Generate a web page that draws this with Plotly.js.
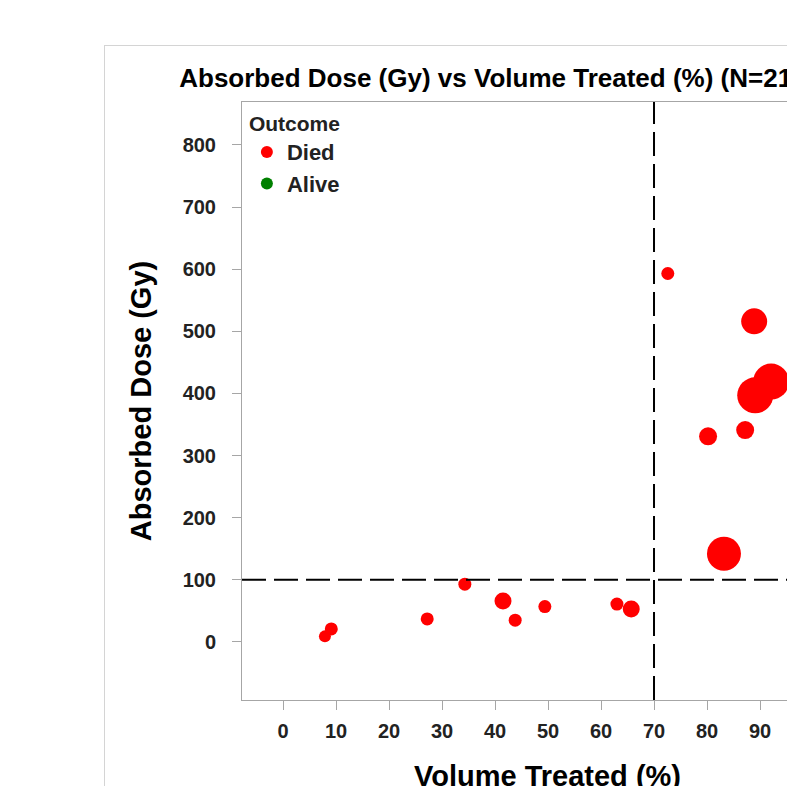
<!DOCTYPE html>
<html>
<head>
<meta charset="utf-8">
<script src="https://cdn.plot.ly/plotly-3.0.1.min.js"></script>
<style>
  html, body { margin: 0; padding: 0; background: #ffffff; overflow: hidden; width: 787px; height: 786px; }
  #frame { position: absolute; left: 104px; top: 45px; width: 800px; height: 800px; border: 1px solid #d4d4d4; background: #fff; }
  #chart { position: absolute; left: 0; top: 0; }
</style>
</head>
<body>
<div id="frame"><div id="chart"></div></div>
<script>
// Data (visible points; outcome = Died)
const diedVolume = [7.9, 9.1, 27.2, 34.3, 41.5, 43.8, 49.4, 63.0, 65.7, 72.6, 88.9, 80.2, 87.2, 89.1, 92.1, 83.2];
const diedDose   = [9,   21,  37,   93,   66,   35,   57,   61,   53,   593,  516,  331,  341,  397,  419,  142];
const diedBubble = [12,  13,  13,   13,   17,   13,   13,   13,   17,   13,   26,   18,   18,   36,   36,   34];
const aliveVolume = [];
const aliveDose = [];
const volumeCut = 70;
const doseCut = 100;
const xTicks = [0, 10, 20, 30, 40, 50, 60, 70, 80, 90];
const yTicks = [0, 100, 200, 300, 400, 500, 600, 700, 800];

const font = 'Liberation Sans, Arial, sans-serif';

const traces = [
  {
    type: 'scatter', mode: 'markers', name: 'Died',
    x: diedVolume, y: diedDose,
    marker: { color: '#ff0000', opacity: 1, size: diedBubble, line: { width: 0 } }
  },
  {
    type: 'scatter', mode: 'markers', name: 'Alive',
    x: aliveVolume.length ? aliveVolume : [null], y: aliveDose.length ? aliveDose : [null],
    marker: { color: '#008000', opacity: 1, size: 13, line: { width: 0 } }
  }
];

const layout = {
  width: 770, height: 770,
  margin: { l: 137, r: 22, t: 56, b: 116 },
  paper_bgcolor: 'rgba(0,0,0,0)',
  plot_bgcolor: '#ffffff',
  font: { family: font, color: '#000000' },
  title: {
    text: '<b>Absorbed Dose (Gy) vs Volume Treated (%) (N=21)</b>',
    font: { family: font, size: 26, color: '#000000' },
    x: 0.5, xref: 'container', xanchor: 'center',
    y: 1 - 32 / 770, yref: 'container', yanchor: 'middle'
  },
  xaxis: {
    range: [-7.75, 107.55],
    tickvals: xTicks,
    ticks: 'outside', ticklen: 9, tickwidth: 1, tickcolor: '#a6a6a6',
    ticklabelstandoff: 4,
    showline: true, linecolor: '#a6a6a6', linewidth: 1, mirror: true,
    showgrid: false, zeroline: false,
    tickfont: { family: font, size: 20, color: '#222222', weight: 'bold' },
    title: { text: '<b>Volume Treated (%)</b>', font: { family: font, size: 29, color: '#000000' }, standoff: 24 }
  },
  yaxis: {
    range: [-93.4, 869],
    tickvals: yTicks,
    ticks: 'outside', ticklen: 9, tickwidth: 1, tickcolor: '#a6a6a6',
    ticklabelstandoff: 12,
    showline: true, linecolor: '#a6a6a6', linewidth: 1, mirror: true,
    showgrid: false, zeroline: false,
    tickfont: { family: font, size: 20, color: '#222222', weight: 'bold' },
    title: { text: '<b>Absorbed Dose (Gy)</b>', font: { family: font, size: 29, color: '#000000' }, standoff: 22 }
  },
  showlegend: true,
  legend: {
    x: 0.008, y: 0.997, xanchor: 'left', yanchor: 'top',
    bgcolor: 'rgba(0,0,0,0)', borderwidth: 0,
    title: { text: '<b>Outcome</b>', font: { family: font, size: 21, color: '#222222' } },
    font: { family: font, size: 22, color: '#222222', weight: 'bold' },
    itemsizing: 'constant',
    tracegroupgap: 0
  },
  shapes: [
    { type: 'line', xref: 'x', yref: 'paper', x0: volumeCut, x1: volumeCut, y0: 0, y1: 1,
      line: { color: '#000000', width: 2, dash: '24px,8px' } },
    { type: 'line', xref: 'paper', yref: 'y', x0: 0, x1: 1, y0: doseCut, y1: doseCut,
      line: { color: '#000000', width: 2, dash: '24px,8px' } }
  ]
};

Plotly.newPlot('chart', traces, layout, { displayModeBar: false, staticPlot: true });
</script>
</body>
</html>
